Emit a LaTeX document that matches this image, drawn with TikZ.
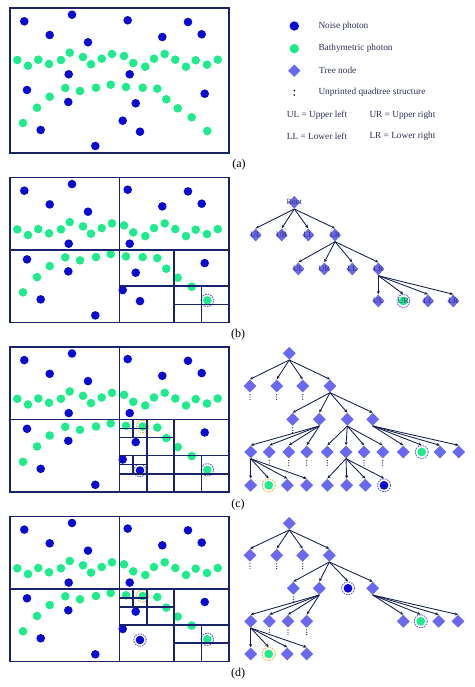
\documentclass[tikz,border=0pt]{standalone}
\usepackage{fontspec}
\setmainfont{Liberation Serif}
\usetikzlibrary{shapes.geometric,arrows.meta,calc}
\definecolor{noisec}{RGB}{10,10,210}
\definecolor{bathyc}{RGB}{30,235,140}
\definecolor{treec}{RGB}{105,105,240}
\definecolor{framec}{RGB}{25,35,105}
\definecolor{arrc}{RGB}{20,30,80}
\definecolor{txtc}{RGB}{45,50,90}
\definecolor{hlblue}{RGB}{90,90,225}
\definecolor{hlyel}{RGB}{225,185,40}

\newcommand\photonset{%
  \foreach \x/\y in {24.3/21.3,72/14.7,127.7/20.3,188/22,49.7/35,88/42.3,162.3/37,201.7/34.3,68.7/74.3,129.7/74.3,27/90,204.7/93.7,68.3/102,135.7/103.3,122.7/120.7,40.7/130,140/131.7,95.3/146}
    {\fill[noisec] (\x,\y) circle (4.3pt);}
  \foreach \x/\y in {17.3/60,28/65.7,38.3/59.7,49/64,61/60,69.7/52.7,83/57,91/64.3,101.7/58.7,112/54,124/56,133.3/63,145.3/66.7,154/58.7,164.7/54,175.3/59.7,186/66.7,195.7/60.3,207/64.7,217.7/59.7,23/123,37/107.7,49.7/96.7,65.3/88,80/91,96/87.7,110.7/84.7,126/87,142.7/87.7,157.3/88.7,166.3/99.3,177.7/108.3,191.7/117.3,207.3/131}
    {\fill[bathyc] (\x,\y) circle (4.3pt);}
}
\newcommand\outerframe{%
  \draw[gridl] (10,8) rectangle (228.7,153);
}
\newcommand\firstsplit{%
  \draw[gridl] (119.35,8) -- (119.35,153);
  \draw[gridl] (10,80.5) -- (228.7,80.5);
  \draw[gridl] (174,80.5) -- (174,153);
  \draw[gridl] (119.35,116.75) -- (228.7,116.75);
}
\newcommand\unprinted[1]{%
  \foreach \k in {1.8,4.2,6.6}
    {\fill[arrc] ($(#1.south)+(0,\k)$) circle (0.6pt);}%
}

\begin{document}
\begin{tikzpicture}[x=1pt,y=-1pt,
  gridl/.style={draw=framec,line width=1.6pt},
  dia/.style={diamond,fill=treec,draw=none,minimum width=13pt,minimum height=13pt,inner sep=0pt},
  ldia/.style={diamond,fill=treec,draw=none,minimum width=12pt,minimum height=13pt,inner sep=0pt},
  tlbl/.style={font=\fontsize{8}{8}\selectfont,text=txtc,inner sep=0pt},
  arr/.style={draw=arrc,line width=0.85pt,-{Stealth[length=3.4pt,width=3pt]}},
  pnode/.style 2 args={circle,draw=#1,dash pattern=on 1.6pt off 1pt,line width=0.8pt,minimum size=13pt,inner sep=0pt,
     path picture={\fill[#2] (path picture bounding box.center) circle (4.4pt);}},
  hl/.style={draw=#1,dash pattern=on 1.6pt off 1pt,line width=0.9pt},
  legt/.style={font=\fontsize{9.3}{9.3}\selectfont,text=txtc,anchor=west,inner sep=0pt},
  plab/.style={font=\fontsize{12}{12}\selectfont,text=black,inner sep=0pt}
]
\useasboundingbox (0,0) rectangle (474,687);
\fill[white] (0,0) rectangle (474,687);

% ---------------- panel (a)
\photonset
\outerframe
\node[plab] (la) at (239,165) {(a)};

% legend
\fill[noisec] (294.3,26) circle (4.7pt);
\node[legt] (lg1) at (318.3,26) {Noise photon};
\fill[bathyc] (294.3,48.7) circle (4.7pt);
\node[legt] (lg2) at (318.3,48.7) {Bathymetric photon};
\node[diamond,fill=treec,minimum width=12.5pt,minimum height=12.5pt,inner sep=0pt] (lgd) at (294.3,70.7) {};
\node[legt] (lg3) at (319,70.7) {Tree node};
\fill[black] (294.3,90.6) circle (0.9pt);
\fill[black] (294.3,95) circle (0.9pt);
\node[legt] (lg4) at (318.3,92.7) {Unprinted quadtree structure};
\node[legt] (lg5) at (286.7,115) {UL = Upper left};
\node[legt] (lg6) at (369.3,115) {UR = Upper right};
\node[legt] (lg7) at (286.7,136.7) {LL = Lower left};
\node[legt] (lg8) at (369.3,136.7) {LR = Lower right};

% ---------------- panel (b)
\begin{scope}[shift={(0,169.4)}]
\photonset
\draw[hl=hlblue] (207.3,131) circle (6.2pt);
\outerframe
\firstsplit
\draw[gridl] (201.35,116.75) -- (201.35,153);
\draw[gridl] (174,134.9) -- (228.7,134.9);
\end{scope}
\node[plab] (lb) at (238,335) {(b)};

% tree (b)
\node[ldia] (br) at (294.3,202.3) {};
\node[ldia] (b1a) at (255.7,235) {};
\node[ldia] (b1b) at (281.7,235) {};
\node[ldia] (b1c) at (308.3,235) {};
\node[ldia] (b1d) at (335,235) {};
\node[ldia] (b2a) at (298.3,269) {};
\node[ldia] (b2b) at (324.3,269) {};
\node[ldia] (b2c) at (352.3,269) {};
\node[ldia] (b2d) at (378.3,269) {};
\node[ldia] (b3a) at (378.3,301) {};
\node[pnode={hlblue}{bathyc}] (b3b) at (403.3,301) {};
\node[ldia] (b3c) at (428,301) {};
\node[ldia] (b3d) at (453.3,301) {};
\node[tlbl] at (br) {Root};
\foreach \n/\t in {b1a/UL,b1b/UR,b1c/LL,b1d/LR,b2a/UL,b2b/UR,b2c/LL,b2d/LR,b3a/UL,b3b/UR,b3c/LL,b3d/LR}
  {\node[tlbl] at (\n) {\t};}
\foreach \c in {b1a,b1b,b1c,b1d} {\draw[arr] (br.south) -- (\c.north);}
\foreach \c in {b2a,b2b,b2c,b2d} {\draw[arr] (b1d.south) -- (\c.north);}
\foreach \c in {b3a,b3b,b3c,b3d} {\draw[arr] (b2d.south) -- (\c.north);}

% ---------------- panel (c)
\begin{scope}[shift={(0,338.8)}]
\photonset
\draw[hl=hlyel] (142.7,87.7) circle (6.2pt);
\draw[hl=hlblue] (140,131.7) circle (6.2pt);
\draw[hl=hlblue] (207.3,131) circle (6.2pt);
\outerframe
\firstsplit
\draw[gridl] (146.7,80.5) -- (146.7,153);
\draw[gridl] (119.35,98.6) -- (174,98.6);
\draw[gridl] (133,80.5) -- (133,98.6);
\draw[gridl] (119.35,89.6) -- (146.7,89.6);
\draw[gridl] (119.35,134.9) -- (228.7,134.9);
\draw[gridl] (133,116.75) -- (133,134.9);
\draw[gridl] (119.35,125.8) -- (146.7,125.8);
\draw[gridl] (201.35,116.75) -- (201.35,153);
\end{scope}
\node[plab] (lc) at (238,505) {(c)};

% tree (c)
\node[dia] (c0) at (289.3,353.3) {};
\node[dia] (c1a) at (250,386) {};
\node[dia] (c1b) at (276.7,386) {};
\node[dia] (c1c) at (302.7,386) {};
\node[dia] (c1d) at (330,386) {};
\node[dia] (c2a) at (292.7,419.3) {};
\node[dia] (c2b) at (319.3,419.3) {};
\node[dia] (c2c) at (347.3,419.3) {};
\node[dia] (c2d) at (372.7,419.3) {};
\node[dia] (c3a) at (250.7,452) {};
\node[dia] (c3b) at (269.3,452) {};
\node[dia] (c3c) at (288.7,452) {};
\node[dia] (c3d) at (306.7,452) {};
\node[dia] (c3e) at (327.3,452) {};
\node[dia] (c3f) at (346,452) {};
\node[dia] (c3g) at (364,452) {};
\node[dia] (c3h) at (382.7,452) {};
\node[dia] (c3i) at (403.3,452) {};
\node[pnode={hlblue}{bathyc}] (c3j) at (421.7,452) {};
\node[dia] (c3k) at (440,452) {};
\node[dia] (c3l) at (458.7,452) {};
\node[dia] (c4a) at (250.7,485.3) {};
\node[pnode={hlyel}{bathyc}] (c4b) at (268.7,485.3) {};
\node[dia] (c4c) at (287.3,485.3) {};
\node[dia] (c4d) at (306.7,485.3) {};
\node[dia] (c4e) at (327.3,485.3) {};
\node[dia] (c4f) at (346.7,485.3) {};
\node[dia] (c4g) at (365.3,485.3) {};
\node[pnode={hlblue}{noisec}] (c4h) at (384,485.3) {};
\foreach \c in {c1a,c1b,c1c,c1d} {\draw[arr] (c0.south) -- (\c.north);}
\foreach \c in {c2a,c2b,c2c,c2d} {\draw[arr] (c1d.south) -- (\c.north);}
\foreach \c in {c3a,c3b,c3c,c3d} {\draw[arr] (c2b.south) -- (\c.north);}
\foreach \c in {c3e,c3f,c3g,c3h} {\draw[arr] (c2c.south) -- (\c.north);}
\foreach \c in {c3i,c3j,c3k,c3l} {\draw[arr] (c2d.south) -- (\c.north);}
\foreach \c in {c4a,c4b,c4c,c4d} {\draw[arr] (c3a.south) -- (\c.north);}
\foreach \c in {c4e,c4f,c4g,c4h} {\draw[arr] (c3f.south) -- (\c.north);}
\foreach \c in {c1a,c1b,c1c,c2a,c3b,c3c,c3d,c3e,c3g,c3h} {\unprinted{\c}}

% ---------------- panel (d)
\begin{scope}[shift={(0,508.3)}]
\photonset
\draw[hl=hlyel] (142.7,87.7) circle (6.2pt);
\draw[hl=hlblue] (140,131.7) circle (6.2pt);
\draw[hl=hlblue] (207.3,131) circle (6.2pt);
\outerframe
\firstsplit
\draw[gridl] (146.7,80.5) -- (146.7,116.75);
\draw[gridl] (119.35,98.6) -- (174,98.6);
\draw[gridl] (133,80.5) -- (133,98.6);
\draw[gridl] (119.35,89.6) -- (146.7,89.6);
\draw[gridl] (201.35,116.75) -- (201.35,153);
\draw[gridl] (174,134.9) -- (228.7,134.9);
\end{scope}
\node[plab] (ld) at (238,674) {(d)};

% tree (d)
\node[dia] (d0) at (289.3,523.3) {};
\node[dia] (d1a) at (250,555.3) {};
\node[dia] (d1b) at (276.7,555.3) {};
\node[dia] (d1c) at (302.7,555.3) {};
\node[dia] (d1d) at (329.3,555.3) {};
\node[dia] (d2a) at (293.3,588.3) {};
\node[dia] (d2b) at (319.3,588.3) {};
\node[pnode={hlblue}{noisec}] (d2c) at (348,588.3) {};
\node[dia] (d2d) at (372.7,588.3) {};
\node[dia] (d3a) at (250.7,621.3) {};
\node[dia] (d3b) at (269.3,621.3) {};
\node[dia] (d3c) at (288,621.3) {};
\node[dia] (d3d) at (306.7,621.3) {};
\node[dia] (d3e) at (403.3,621.3) {};
\node[pnode={hlblue}{bathyc}] (d3f) at (420.7,621.3) {};
\node[dia] (d3g) at (438.7,621.3) {};
\node[dia] (d3h) at (458,621.3) {};
\node[dia] (d4a) at (250.7,654) {};
\node[pnode={hlyel}{bathyc}] (d4b) at (268.7,654) {};
\node[dia] (d4c) at (287.3,654) {};
\node[dia] (d4d) at (306.7,654) {};
\foreach \c in {d1a,d1b,d1c,d1d} {\draw[arr] (d0.south) -- (\c.north);}
\foreach \c in {d2a,d2b,d2c,d2d} {\draw[arr] (d1d.south) -- (\c.north);}
\foreach \c in {d3a,d3b,d3c,d3d} {\draw[arr] (d2b.south) -- (\c.north);}
\foreach \c in {d3e,d3f,d3g,d3h} {\draw[arr] (d2d.south) -- (\c.north);}
\foreach \c in {d4a,d4b,d4c,d4d} {\draw[arr] (d3a.south) -- (\c.north);}
\foreach \c in {d1a,d1b,d1c,d2a,d3b,d3c,d3d} {\unprinted{\c}}
\end{tikzpicture}
\end{document}
